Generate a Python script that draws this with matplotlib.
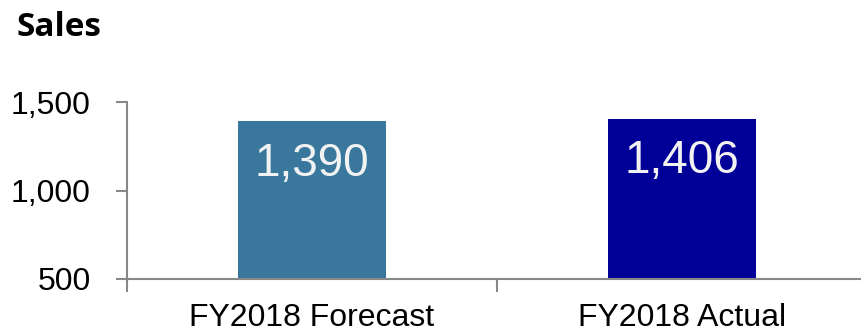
import matplotlib
matplotlib.use("Agg")
import matplotlib.pyplot as plt
from matplotlib.ticker import FuncFormatter

categories = ["FY2018 Forecast", "FY2018 Actual"]
values = [1390, 1406]
colors = ["#3a779d", "#000099"]
yticks = [500, 1000, 1500]

plt.rcParams['font.family'] = ['Liberation Sans', 'DejaVu Sans']

fig = plt.figure(figsize=(8.62, 3.31), dpi=100)
ax = fig.add_axes([127/862, 1-279/331, 740/862, (279-102)/331])

x = list(range(len(categories)))
bars = ax.bar(x, values, width=0.4, color=colors, bottom=0)
ax.set_ylim(500, 1500)
ax.set_xlim(-0.5, len(categories) - 0.5)
ax.set_yticks(yticks)
ax.yaxis.set_major_formatter(FuncFormatter(lambda v, p: f"{int(v):,}"))
ax.set_xticks(x)
ax.set_xticklabels(categories)
ax.set_xticks([-0.5, 0.5, 1.5], minor=True)

for s in ["top", "right"]:
    ax.spines[s].set_visible(False)
for s in ["left", "bottom"]:
    ax.spines[s].set_color("#888888")
    ax.spines[s].set_linewidth(1.5)

ax.tick_params(axis='y', length=8, width=1.5, color="#888888", labelsize=23, pad=18)
ax.tick_params(axis='x', which='major', length=0, labelsize=23, pad=17)
ax.tick_params(axis='x', which='minor', length=9, width=1.5, color="#888888")

for xi, v in zip(x, values):
    ax.text(xi, v - 240, f"{v:,}", ha='center', va='center', color="#f2f2f2", fontsize=33)

fig.text(17/862, 1-27/331, "Sales", ha='left', va='center', fontsize=24,
         fontweight='bold', family=['Open Sans', 'DejaVu Sans'])

fig.savefig("out.png", dpi=100)
